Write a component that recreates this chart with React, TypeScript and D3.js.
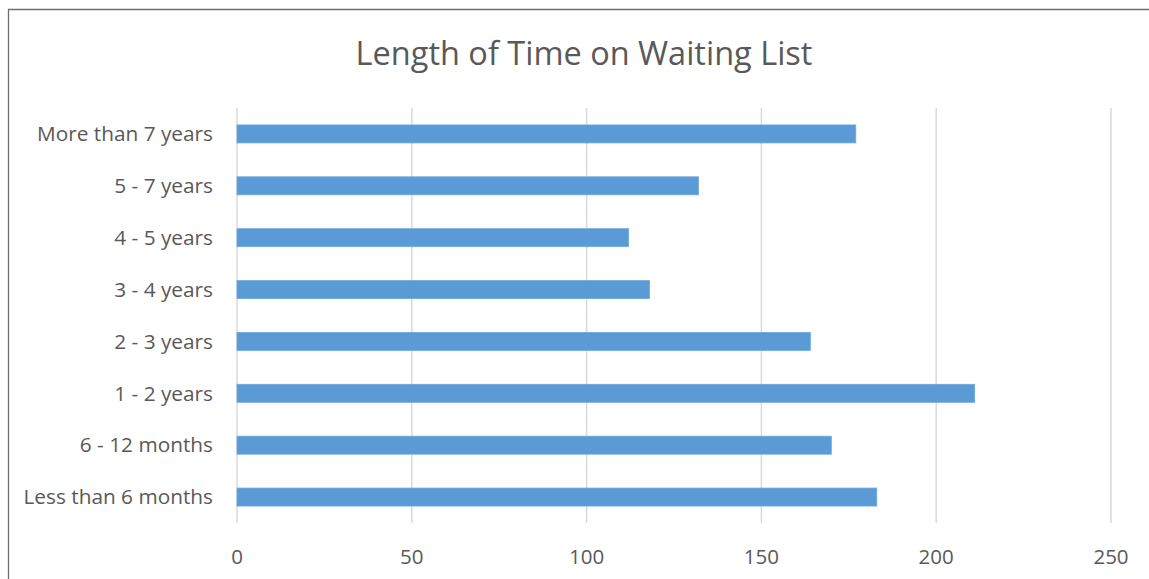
import React from "react";
import * as d3 from "d3";

const categories: string[] = [
  "More than 7 years",
  "5 - 7 years",
  "4 - 5 years",
  "3 - 4 years",
  "2 - 3 years",
  "1 - 2 years",
  "6 - 12 months",
  "Less than 6 months",
];
const counts: number[] = [177, 132, 112, 118, 164, 211, 170, 183];
const xTicks: number[] = [0, 50, 100, 150, 200, 250];
const title = "Length of Time on Waiting List";

const W = 1149;
const H = 579;
const FONT = "'Open Sans', 'Noto Sans', sans-serif";
const TEXT = "#595959";

export default function App() {
  const x = d3.scaleLinear().domain([0, 250]).range([237, 1111]);
  const y = d3
    .scaleBand<string>()
    .domain(categories)
    .range([108, 523])
    .paddingInner(0.653)
    .paddingOuter(0.3265);

  return (
    <div style={{ position: "fixed", left: 0, top: 0 }}>
      <svg width={W} height={H} style={{ display: "block", background: "#fff" }}>
        {/* chart frame */}
        <line x1={8} x2={W} y1={9.5} y2={9.5} stroke="#6e6e6e" strokeWidth={1.3} />
        <line x1={8.5} x2={8.5} y1={9} y2={H} stroke="#6e6e6e" strokeWidth={1.3} />

        <text
          x={584}
          y={65}
          textAnchor="middle"
          fontFamily={FONT}
          fontSize={32.5}
          fill={TEXT}
        >
          {title}
        </text>

        {/* vertical gridlines */}
        {xTicks.map((t) => (
          <line
            key={`g${t}`}
            x1={x(t)}
            x2={x(t)}
            y1={108}
            y2={523}
            stroke="#d9d9d9"
            strokeWidth={1.5}
          />
        ))}

        {/* bars */}
        {categories.map((c, i) => (
          <rect
            key={c}
            x={x(0)}
            y={y(c)}
            width={x(counts[i]) - x(0)}
            height={y.bandwidth()}
            fill="#5b9bd5"
            stroke="#6ea8dc"
            strokeWidth={0.8}
          />
        ))}

        {/* category labels */}
        {categories.map((c) => (
          <text
            key={`l${c}`}
            x={213}
            y={(y(c) ?? 0) + y.bandwidth() / 2}
            dy="0.35em"
            textAnchor="end"
            fontFamily={FONT}
            fontSize={20.8}
            fill={TEXT}
          >
            {c}
          </text>
        ))}

        {/* value axis labels */}
        {xTicks.map((t) => (
          <text
            key={`t${t}`}
            x={x(t)}
            y={564}
            textAnchor="middle"
            fontFamily={FONT}
            fontSize={20.5}
            fill={TEXT}
          >
            {t}
          </text>
        ))}
      </svg>
    </div>
  );
}
